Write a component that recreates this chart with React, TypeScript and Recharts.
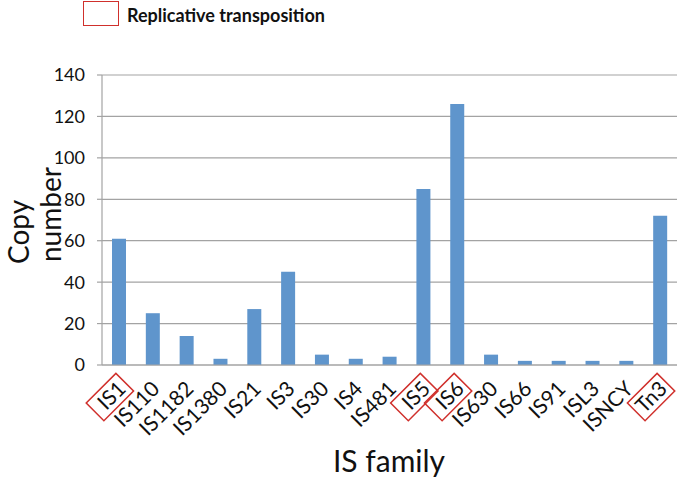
import { Bar, BarChart, CartesianGrid, Legend, XAxis, YAxis } from 'recharts';

const families = ['IS1', 'IS110', 'IS1182', 'IS1380', 'IS21', 'IS3', 'IS30', 'IS4', 'IS481', 'IS5', 'IS6', 'IS630', 'IS66', 'IS91', 'ISL3', 'ISNCY', 'Tn3'];
const copyNumbers = [61, 25, 14, 3, 27, 45, 5, 3, 4, 85, 126, 5, 2, 2, 2, 2, 72];
const replicative = ['IS1', 'IS5', 'IS6', 'Tn3'];
const yTicks = [0, 20, 40, 60, 80, 100, 120, 140];

const FONT = 'Lato, "DejaVu Sans", sans-serif';
const RED = '#d0302c';
const GRID = '#a3a3a3';

const data = families.map((family, i) => ({ family, copies: copyNumbers[i] }));

function FamilyTick(props: any) {
  const { x, y, payload } = props;
  const boxed = replicative.includes(payload.value);
  return (
    <g transform={`translate(${x + 3},${y + 12}) rotate(-45)`}>
      {boxed && <rect x={-38} y={-12.5} width={42} height={25} fill="none" stroke={RED} strokeWidth={1.5} />}
      <text x={0} y={0} dy="0.35em" textAnchor="end" fontSize={21} fontFamily={FONT} fill="#111">
        {payload.value}
      </text>
    </g>
  );
}

function ReplicativeLegend() {
  return (
    <div style={{ display: 'flex', alignItems: 'center', fontFamily: FONT }}>
      <span style={{ display: 'inline-block', width: 34, height: 23, border: `1.5px solid ${RED}`, marginRight: 8 }} />
      <span style={{ fontWeight: 700, fontSize: 18, color: '#111', marginTop: 3 }}>Replicative transposition</span>
    </div>
  );
}

function YTitle() {
  return (
    <g fontFamily={FONT} fontSize={28} fill="#111">
      <text x={29} y={264} transform="rotate(-90, 29, 264)">Copy</text>
      <text x={61} y={262} transform="rotate(-90, 61, 262)">number</text>
    </g>
  );
}

function XTitle() {
  return (
    <text x={389} y={472} textAnchor="middle" fontFamily={FONT} fontSize={30} fill="#111">
      IS family
    </text>
  );
}

export default function App() {
  return (
    <div style={{ position: 'absolute', left: 0, top: 0, width: 680, height: 480, background: '#fff' }}>
      <BarChart width={680} height={480} data={data} margin={{ top: 50, right: 3, bottom: 0, left: 0 }}>
        <CartesianGrid vertical={false} stroke={GRID} strokeWidth={1.2} />
        <XAxis
          dataKey="family"
          interval={0}
          height={115}
          tickLine={false}
          axisLine={{ stroke: GRID, strokeWidth: 1.2 }}
          tick={<FamilyTick />}
          label={<XTitle />}
        />
        <YAxis
          domain={[0, 140]}
          ticks={yTicks}
          width={102}
          tickSize={5}
          tickMargin={12}
          tickLine={{ stroke: GRID, strokeWidth: 1.2 }}
          axisLine={{ stroke: GRID, strokeWidth: 1.2 }}
          tick={{ fontSize: 18, fontFamily: FONT, fill: '#111' }}
          label={<YTitle />}
        />
        <Legend
          verticalAlign="top"
          content={<ReplicativeLegend />}
          wrapperStyle={{ position: 'absolute', top: 1, left: 83, width: 320 }}
        />
        <Bar dataKey="copies" fill="#5f95cc" barSize={14} isAnimationActive={false} />
      </BarChart>
    </div>
  );
}
